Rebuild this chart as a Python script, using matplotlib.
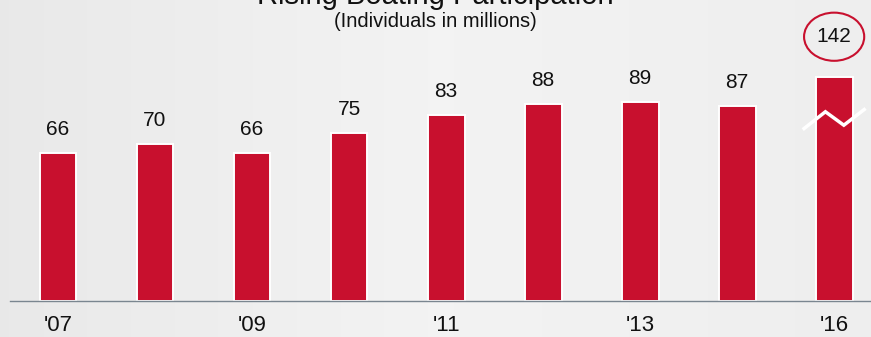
import matplotlib.pyplot as plt
import numpy as np
from matplotlib.patches import Ellipse

plt.rcParams['font.family'] = ['Liberation Sans', 'DejaVu Sans']

years = ["'07", "'08", "'09", "'10", "'11", "'12", "'13", "'14", "'16"]
values = [66, 70, 66, 75, 83, 88, 89, 87, 142]
shown_labels = ["'07", "", "'09", "", "'11", "", "'13", "", "'16"]
# last bar is drawn with a broken axis
drawn_height_last = 100

red = '#C8102E'

fig = plt.figure(figsize=(8.71, 3.37), dpi=100)
ax = fig.add_axes([0, 0, 1, 1])

# light grey background with a soft horizontal gradient
grad = np.concatenate([np.linspace(0.91, 0.95, 50), np.linspace(0.95, 0.93, 50)])
ax.imshow(np.tile(grad, (2, 1)), cmap='gray', vmin=0, vmax=1, aspect='auto',
          extent=[-0.6, 8.4, -17, 135], zorder=0)

x = np.arange(len(values))
heights = values[:-1] + [drawn_height_last]
ax.bar(x, heights, width=0.38, color=red, edgecolor='white', linewidth=1.4, zorder=2)

for i, v in enumerate(values[:-1]):
    ax.text(i, v + 10.5, str(v), ha='center', va='center', fontsize=15, color='#111111', zorder=3)

# break mark on the last bar
i = len(values) - 1
ax.plot([i - 0.31, i - 0.09, i + 0.1, i + 0.31], [77, 84.5, 78.5, 85.5],
        color='white', lw=2.5, zorder=4, solid_joinstyle='miter')

# circled value for the last bar
ax.add_patch(Ellipse((i, 118), 0.62, 21.5, facecolor='none', edgecolor=red, lw=1.5, zorder=3))
ax.text(i, 118, str(values[-1]), ha='center', va='center', fontsize=15, color='#111111', zorder=4)

# baseline
ax.plot([-0.5, 8.4], [0, 0], color='#7A8690', lw=1.0, zorder=3)

for i, lab in enumerate(shown_labels):
    if lab:
        ax.text(i, -11, lab, ha='center', va='center', fontsize=16, color='#111111')

ax.text(0.5, 1.012, 'Rising Boating Participation', transform=ax.transAxes,
        ha='center', va='center', fontsize=21, color='#111111')
ax.text(0.5, 0.937, '(Individuals in millions)', transform=ax.transAxes,
        ha='center', va='center', fontsize=14.5, color='#111111')

ax.set_xlim(-0.598, 8.38)
ax.set_ylim(-16.07, 134.4)
ax.axis('off')

fig.savefig('out.png', dpi=100)
